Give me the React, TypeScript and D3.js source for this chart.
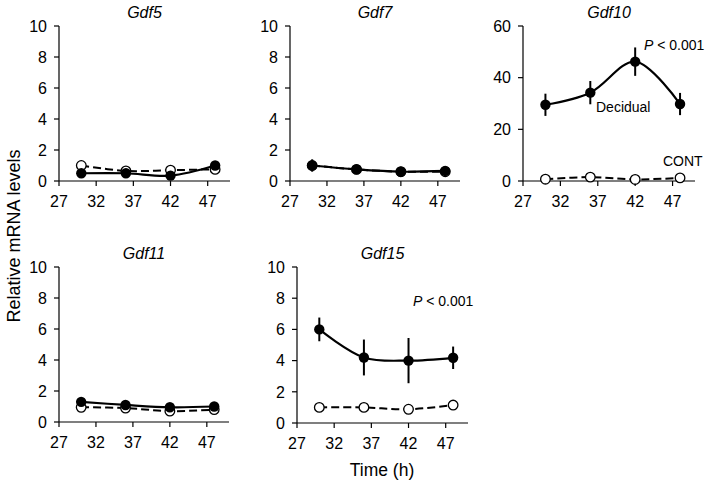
import React from "react";
import * as d3 from "d3";

// time points (h)
const hours = [30, 36, 42, 48];
const xTicks = [27, 32, 37, 42, 47];

const genes = ["Gdf5", "Gdf7", "Gdf10", "Gdf11", "Gdf15"];

// decidual (filled) means and SEM
const decidual = [
  [0.5, 0.5, 0.35, 1.0],
  [1.0, 0.75, 0.6, 0.65],
  [29.5, 34.2, 46.2, 29.8],
  [1.3, 1.1, 0.95, 1.0],
  [6.0, 4.2, 4.0, 4.18],
];
const decidualErr = [
  [0.15, 0.1, 0.1, 0.15],
  [0.4, 0.1, 0.1, 0.1],
  [4.3, 4.5, 5.5, 4.3],
  [0.15, 0.1, 0.1, 0.1],
  [0.76, 1.15, 1.45, 0.72],
];

// control (open) means and SEM
const control = [
  [1.0, 0.65, 0.7, 0.75],
  [1.0, 0.75, 0.6, 0.6],
  [0.7, 1.5, 0.6, 1.2],
  [0.95, 0.9, 0.7, 0.8],
  [1.0, 1.0, 0.88, 1.15],
];
const controlErr = [
  [0.3, 0.1, 0.1, 0.1],
  [0.1, 0.1, 0.05, 0.05],
  [0.3, 0.3, 0.2, 0.3],
  [0.1, 0.1, 0.1, 0.1],
  [0.05, 0.05, 0.05, 0.05],
];

const yMaxes = [10, 10, 60, 10, 10];
const yTickSets = [
  [0, 2, 4, 6, 8, 10],
  [0, 2, 4, 6, 8, 10],
  [0, 20, 40, 60],
  [0, 2, 4, 6, 8, 10],
  [0, 2, 4, 6, 8, 10],
];

// panel frames: left, right, top, bottom of plotting area
const frames = [
  { l: 59, r: 230, t: 26, b: 181 },
  { l: 290, r: 460, t: 26, b: 181 },
  { l: 523, r: 695, t: 26, b: 181 },
  { l: 59, r: 229, t: 267, b: 422 },
  { l: 297, r: 468, t: 267, b: 423 },
];

const FONT = "'Liberation Sans', Arial, sans-serif";

function Panel({ i }: { i: number }) {
  const f = frames[i];
  const x = d3.scaleLinear().domain([27, 50]).range([f.l, f.r]);
  const y = d3.scaleLinear().domain([0, yMaxes[i]]).range([f.b, f.t]);

  const line = d3
    .line<number>()
    .x((_, j) => x(hours[j]))
    .y((d) => y(d))
    .curve(d3.curveCatmullRom.alpha(0.5));

  return (
    <g>
      <text
        x={(f.l + f.r) / 2}
        y={f.t - 8}
        textAnchor="middle"
        fontStyle="italic"
        fontSize={16}
      >
        {genes[i]}
      </text>

      {/* axes */}
      <line x1={f.l} x2={f.l} y1={f.t} y2={f.b} stroke="#000" strokeWidth={1.2} />
      <line x1={f.l} x2={f.r} y1={f.b} y2={f.b} stroke="#000" strokeWidth={1.2} />
      {yTickSets[i].map((t) => (
        <g key={"y" + t}>
          <line x1={f.l - 5} x2={f.l} y1={y(t)} y2={y(t)} stroke="#000" strokeWidth={1.2} />
          <text x={f.l - 12} y={y(t)} dy="0.36em" textAnchor="end" fontSize={16}>
            {t}
          </text>
        </g>
      ))}
      {xTicks.map((t) => (
        <g key={"x" + t}>
          <line x1={x(t)} x2={x(t)} y1={f.b} y2={f.b + 5} stroke="#000" strokeWidth={1.2} />
          <text x={x(t)} y={f.b + 25.5} textAnchor="middle" fontSize={16}>
            {t}
          </text>
        </g>
      ))}

      {/* control */}
      <path
        d={line(control[i]) || ""}
        fill="none"
        stroke="#000"
        strokeWidth={2}
        strokeDasharray="8,4"
      />
      {control[i].map((v, j) => (
        <line
          key={"ce" + j}
          x1={x(hours[j])}
          x2={x(hours[j])}
          y1={y(v - controlErr[i][j])}
          y2={y(v + controlErr[i][j])}
          stroke="#000"
          strokeWidth={1.5}
        />
      ))}
      {control[i].map((v, j) => (
        <circle
          key={"c" + j}
          cx={x(hours[j])}
          cy={y(v)}
          r={4.8}
          fill="#fff"
          stroke="#000"
          strokeWidth={1.3}
        />
      ))}

      {/* decidual */}
      <path d={line(decidual[i]) || ""} fill="none" stroke="#000" strokeWidth={2.2} />
      {decidual[i].map((v, j) => (
        <line
          key={"de" + j}
          x1={x(hours[j])}
          x2={x(hours[j])}
          y1={y(v - decidualErr[i][j])}
          y2={y(v + decidualErr[i][j])}
          stroke="#000"
          strokeWidth={2}
        />
      ))}
      {decidual[i].map((v, j) => (
        <circle key={"d" + j} cx={x(hours[j])} cy={y(v)} r={5.2} fill="#000" />
      ))}
    </g>
  );
}

export default function App() {
  return (
    <div style={{ position: "absolute", left: 0, top: 0 }}>
      <svg width={709} height={484} fontFamily={FONT} style={{ display: "block", background: "#fff" }}>
        {genes.map((g, i) => (
          <Panel key={g} i={i} />
        ))}

        <text x={644} y={50} fontSize={14}>
          <tspan fontStyle="italic">P</tspan> {"< 0.001"}
        </text>
        <text x={596} y={112} fontSize={14}>Decidual</text>
        <text x={663} y={166} fontSize={14}>CONT</text>
        <text x={413} y={306} fontSize={14}>
          <tspan fontStyle="italic">P</tspan> {"< 0.001"}
        </text>

        <text
          transform="translate(20,236) rotate(-90)"
          textAnchor="middle"
          fontSize={18}
        >
          Relative mRNA levels
        </text>
        <text x={382} y={476} textAnchor="middle" fontSize={17.5}>
          Time (h)
        </text>
      </svg>
    </div>
  );
}
